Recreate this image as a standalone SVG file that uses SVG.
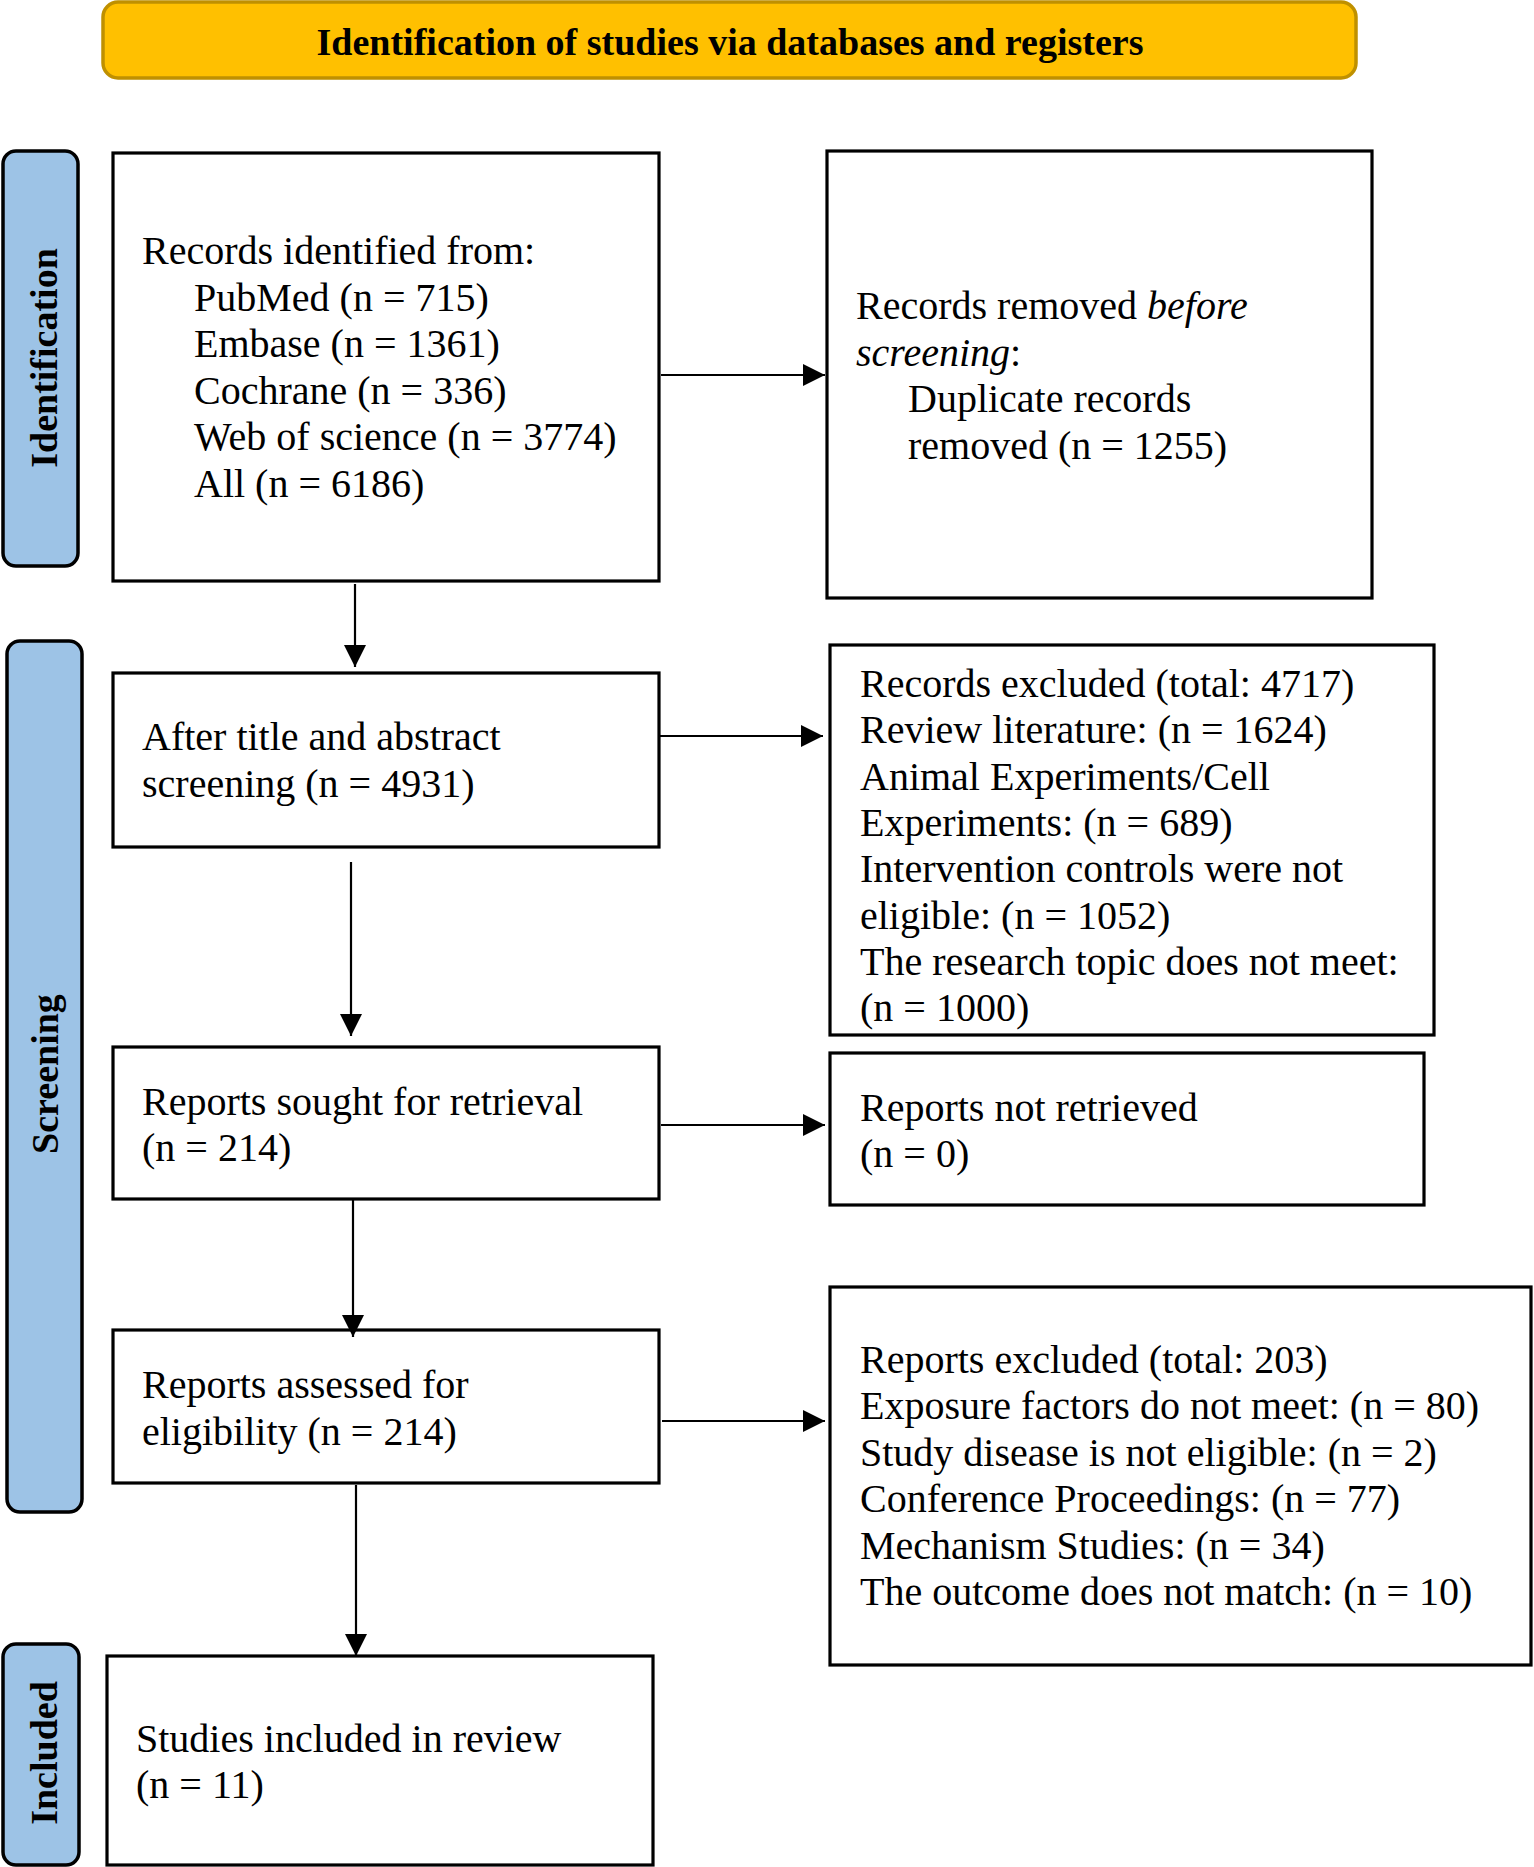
<svg xmlns="http://www.w3.org/2000/svg" width="1534" height="1867" viewBox="0 0 1534 1867">
<style>
.box{fill:#fff;stroke:#000;stroke-width:3.2}
.side{fill:#9DC3E6;stroke:#000;stroke-width:3.5}
.t{font-family:"Liberation Serif","Times New Roman",serif;font-size:40px;fill:#000}
.sl{font-family:"Liberation Serif","Times New Roman",serif;font-size:38px;font-weight:bold;fill:#000}
.conn line{stroke:#000;stroke-width:2.2}
</style>
<defs>
<marker id="ah" viewBox="0 0 22 22" refX="22" refY="11" markerWidth="22" markerHeight="22" markerUnits="userSpaceOnUse" orient="auto">
<path d="M0,0 L22,11 L0,22 Z" fill="#000"/>
</marker>
</defs>
<rect width="1534" height="1867" fill="#fff"/>

<g id="banner">
<rect x="103" y="2" width="1253" height="76" rx="15" ry="15" fill="#FFC000" stroke="#BF9000" stroke-width="3.5"/>
<text x="730" y="55" text-anchor="middle" font-family="Liberation Serif,'Times New Roman',serif" font-size="38" font-weight="bold">Identification of studies via databases and registers</text>
</g>

<g id="side-identification">
<rect class="side" x="3" y="151" width="75" height="415" rx="13" ry="13"/>
<text class="sl" text-anchor="middle" transform="translate(57,358) rotate(-90)">Identification</text>
</g>
<g id="side-screening">
<rect class="side" x="7" y="641" width="75" height="871" rx="13" ry="13"/>
<text class="sl" text-anchor="middle" transform="translate(58,1074) rotate(-90)">Screening</text>
</g>
<g id="side-included">
<rect class="side" x="3" y="1644" width="76" height="221" rx="13" ry="13"/>
<text class="sl" text-anchor="middle" transform="translate(57,1753) rotate(-90)">Included</text>
</g>

<g id="records-identified">
<rect class="box" x="113" y="153" width="546" height="428"/>
<text class="t" x="142" y="264">Records identified from:</text>
<text class="t" x="194" y="311">PubMed (n = 715)</text>
<text class="t" x="194" y="357">Embase (n = 1361)</text>
<text class="t" x="194" y="404">Cochrane (n = 336)</text>
<text class="t" x="194" y="450">Web of science (n = 3774)</text>
<text class="t" x="194" y="497">All (n = 6186)</text>
</g>

<g id="records-removed">
<rect class="box" x="827" y="151" width="545" height="447"/>
<text class="t" x="856" y="319">Records removed <tspan font-style="italic">before</tspan></text>
<text class="t" x="856" y="366"><tspan font-style="italic">screening</tspan>:</text>
<text class="t" x="908" y="412">Duplicate records</text>
<text class="t" x="908" y="459">removed (n = 1255)</text>
</g>

<g id="after-screening">
<rect class="box" x="113" y="673" width="546" height="174"/>
<text class="t" x="142" y="750">After title and abstract</text>
<text class="t" x="142" y="797">screening (n = 4931)</text>
</g>

<g id="records-excluded">
<rect class="box" x="830" y="645" width="604" height="390"/>
<text class="t" x="860" y="697">Records excluded (total: 4717)</text>
<text class="t" x="860" y="743">Review literature: (n = 1624)</text>
<text class="t" x="860" y="790">Animal Experiments/Cell</text>
<text class="t" x="860" y="836">Experiments: (n = 689)</text>
<text class="t" x="860" y="882">Intervention controls were not</text>
<text class="t" x="860" y="929">eligible: (n = 1052)</text>
<text class="t" x="860" y="975">The research topic does not meet:</text>
<text class="t" x="860" y="1021">(n = 1000)</text>
</g>

<g id="reports-sought">
<rect class="box" x="113" y="1047" width="546" height="152"/>
<text class="t" x="142" y="1115">Reports sought for retrieval</text>
<text class="t" x="142" y="1161">(n = 214)</text>
</g>

<g id="reports-not-retrieved">
<rect class="box" x="830" y="1053" width="594" height="152"/>
<text class="t" x="860" y="1121">Reports not retrieved</text>
<text class="t" x="860" y="1167">(n = 0)</text>
</g>

<g id="reports-assessed">
<rect class="box" x="113" y="1330" width="546" height="153"/>
<text class="t" x="142" y="1398">Reports assessed for</text>
<text class="t" x="142" y="1445">eligibility (n = 214)</text>
</g>

<g id="reports-excluded">
<rect class="box" x="830" y="1287" width="701" height="378"/>
<text class="t" x="860" y="1373">Reports excluded (total: 203)</text>
<text class="t" x="860" y="1419">Exposure factors do not meet: (n = 80)</text>
<text class="t" x="860" y="1466">Study disease is not eligible: (n = 2)</text>
<text class="t" x="860" y="1512">Conference Proceedings: (n = 77)</text>
<text class="t" x="860" y="1559">Mechanism Studies: (n = 34)</text>
<text class="t" x="860" y="1605">The outcome does not match: (n = 10)</text>
</g>

<g id="studies-included">
<rect class="box" x="107" y="1656" width="546" height="209"/>
<text class="t" x="136" y="1752">Studies included in review</text>
<text class="t" x="136" y="1798">(n = 11)</text>
</g>

<g id="connectors" class="conn">
<line x1="661" y1="375" x2="825" y2="375" marker-end="url(#ah)"/>
<line x1="355" y1="584" x2="355" y2="667" marker-end="url(#ah)"/>
<line x1="659" y1="736" x2="823" y2="736" marker-end="url(#ah)"/>
<line x1="351" y1="862" x2="351" y2="1036" marker-end="url(#ah)"/>
<line x1="661" y1="1125" x2="825" y2="1125" marker-end="url(#ah)"/>
<line x1="353" y1="1200" x2="353" y2="1337" marker-end="url(#ah)"/>
<line x1="662" y1="1421" x2="825" y2="1421" marker-end="url(#ah)"/>
<line x1="356" y1="1485" x2="356" y2="1656" marker-end="url(#ah)"/>
</g>
</svg>
